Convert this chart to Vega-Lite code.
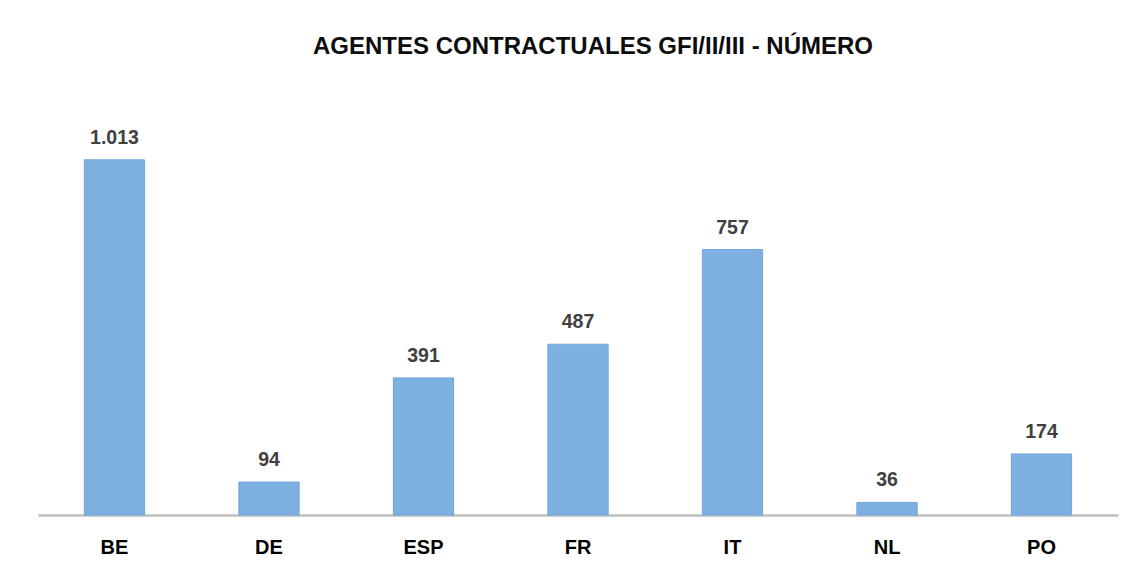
{
  "$schema": "https://vega.github.io/schema/vega-lite/v6.json",
  "width": 1080,
  "height": 420,
  "autosize": {"type": "none"},
  "padding": {"left": 38, "top": 95, "right": 11, "bottom": 57},
  "background": "white",
  "config": {
    "view": {"stroke": null},
    "locale": {"number": {"decimal": ",", "thousands": ".", "grouping": [3], "currency": ["", " €"]}},
    "font": "Liberation Sans"
  },
  "title": {
    "text": "AGENTES CONTRACTUALES GFI/II/III - NÚMERO",
    "fontSize": 24,
    "fontWeight": "bold",
    "color": "#0d0d0d",
    "font": "Liberation Sans",
    "anchor": "middle",
    "dx": 15,
    "offset": 36
  },
  "data": {
    "values": [
      {"pais": "BE", "numero": 1013},
      {"pais": "DE", "numero": 94},
      {"pais": "ESP", "numero": 391},
      {"pais": "FR", "numero": 487},
      {"pais": "IT", "numero": 757},
      {"pais": "NL", "numero": 36},
      {"pais": "PO", "numero": 174}
    ]
  },
  "encoding": {
    "x": {
      "field": "pais",
      "type": "nominal",
      "sort": null,
      "scale": {"paddingInner": 0.61, "paddingOuter": 0.3},
      "axis": {
        "title": null,
        "labelAngle": 0,
        "labelFont": "Liberation Sans",
        "labelFontSize": 20,
        "labelFontWeight": "bold",
        "labelColor": "#000000",
        "labelPadding": 22,
        "ticks": false,
        "domainColor": "#bfbfbf",
        "domainWidth": 2.5
      }
    },
    "y": {
      "field": "numero",
      "type": "quantitative",
      "scale": {"domain": [0, 1198]},
      "axis": null
    }
  },
  "layer": [
    {
      "mark": {"type": "bar", "fill": "#7eb0e2", "stroke": "#6fa5dc", "strokeWidth": 1}
    },
    {
      "mark": {"type": "text", "baseline": "alphabetic", "dy": -16, "fontSize": 19.5, "fontWeight": "bold", "color": "#404040", "font": "Liberation Sans"},
      "encoding": {"text": {"field": "numero", "type": "quantitative", "format": ",d"}}
    }
  ]
}
